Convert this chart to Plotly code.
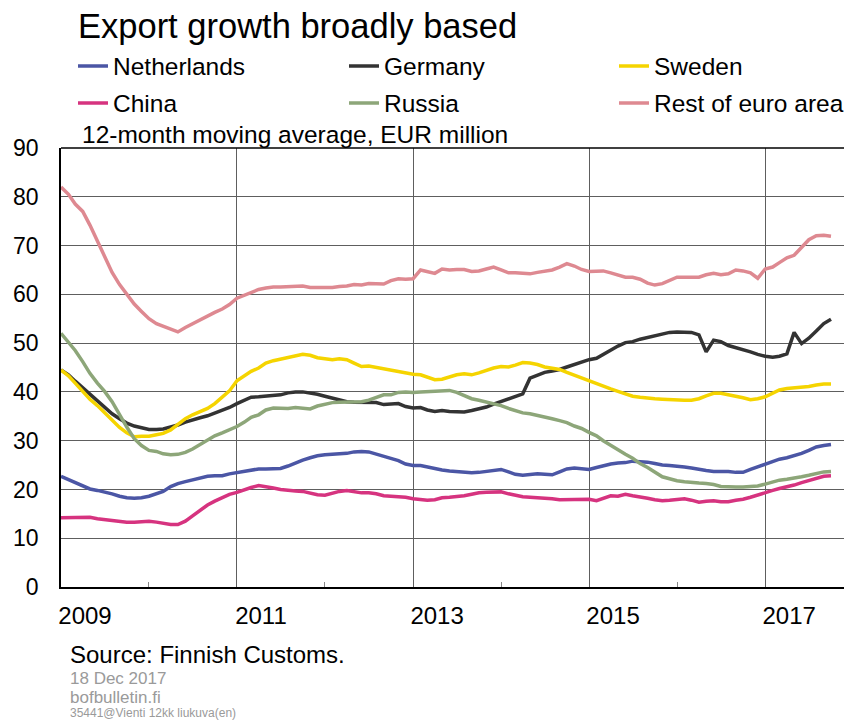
import pandas as pd
import plotly.graph_objects as go

# ---------------- data (12-month moving average, EUR million), monthly Jan 2009 - Oct 2017
netherlands = [22.7, 22.0, 21.4, 20.8, 20.1, 19.8, 19.5, 19.1, 18.6, 18.3, 18.2, 18.3, 18.6, 19.1, 19.6, 20.6, 21.2, 21.6, 22.0, 22.4, 22.7, 22.8, 22.8, 23.2, 23.5, 23.7, 24.0,
               24.2, 24.2, 24.3, 24.3, 24.8, 25.5, 26.0, 26.5, 26.9, 27.1, 27.2, 27.3, 27.4, 27.7, 27.8, 27.7, 27.2, 26.7, 26.3, 25.9, 25.2, 24.9, 24.9, 24.6, 24.2, 24.0,
               23.8, 23.7, 23.6, 23.4, 23.5, 23.7, 23.9, 24.1, 23.6, 23.1, 22.9, 23.1, 23.2, 23.1, 23.0, 23.6, 24.2, 24.4, 24.2, 24.1, 24.5, 24.9, 25.2, 25.4, 25.5,
               25.8, 25.7, 25.6, 25.3, 25.0, 24.9, 24.8, 24.6, 24.4, 24.1, 23.9, 23.7, 23.7, 23.7, 23.5, 23.5, 24.1, 24.6, 25.1, 25.7, 26.2, 26.5, 26.9, 27.4, 28.0, 28.7, 29.0, 29.2]
germany = [44.5, 43.5, 42.2, 40.8, 39.5, 38.2, 36.8, 35.5, 34.5, 33.6, 33.0, 32.6, 32.3, 32.3, 32.4, 32.8, 33.2, 33.8, 34.3, 34.7, 35.1, 35.6, 36.2, 36.8, 37.6, 38.3, 38.9,
           39.0, 39.1, 39.2, 39.4, 39.8, 40.0, 40.0, 39.8, 39.5, 39.1, 38.7, 38.3, 38.0, 37.9, 37.9, 37.9, 37.8, 37.4, 37.5, 37.6, 37.0, 36.7, 36.8, 36.3, 36.0, 36.2,
           36.0, 36.0, 35.9, 36.2, 36.6, 36.9, 37.5, 38.0, 38.6, 39.1, 39.6, 42.8, 43.5, 44.0, 44.3, 44.6, 45.1, 45.6, 46.1, 46.6, 46.9, 47.7, 48.7, 49.4, 50.1,
           50.3, 50.8, 51.2, 51.5, 51.8, 52.2, 52.3, 52.3, 52.2, 51.7, 48.2, 50.6, 50.3, 49.5, 49.1, 48.6, 48.2, 47.7, 47.3, 47.1, 47.3, 47.8, 52.2, 49.9, 51.0, 52.5, 54.0, 54.9]
sweden = [44.5, 43.3, 41.8, 40.2, 38.5, 37.2, 35.7, 34.2, 32.7, 31.6, 30.8, 30.9, 30.9, 31.2, 31.5, 32.2, 33.3, 34.5, 35.3, 35.9, 36.6, 37.6, 38.9, 40.2, 42.3, 43.3, 44.2,
          44.9, 45.9, 46.4, 46.7, 47.0, 47.4, 47.7, 47.5, 47.0, 46.8, 46.6, 46.8, 46.6, 45.9, 45.2, 45.3, 45.0, 44.8, 44.5, 44.2, 43.8, 43.6, 43.5, 43.0, 42.5, 42.6,
          43.0, 43.5, 43.7, 43.5, 43.9, 44.4, 44.9, 45.2, 45.1, 45.5, 46.0, 45.9, 45.6, 45.1, 44.8, 44.6, 44.0, 43.4, 42.9, 42.4, 41.8, 41.2, 40.6, 40.1, 39.5,
          39.1, 38.9, 38.7, 38.6, 38.5, 38.4, 38.4, 38.3, 38.3, 38.6, 39.2, 39.7, 39.7, 39.4, 39.2, 38.8, 38.4, 38.6, 39.0, 39.8, 40.4, 40.7, 40.8, 40.9, 41.1, 41.4, 41.6, 41.6]
china = [14.2, 14.2, 14.2, 14.3, 14.3, 14.0, 13.8, 13.6, 13.5, 13.3, 13.3, 13.4, 13.5, 13.3, 13.0, 12.8, 12.8, 13.5, 14.6, 15.8, 16.8, 17.6, 18.4, 19.0, 19.4, 20.0, 20.4,
         20.8, 20.6, 20.3, 20.0, 19.8, 19.7, 19.6, 19.3, 18.9, 18.8, 19.2, 19.6, 19.8, 19.5, 19.3, 19.3, 19.1, 18.7, 18.6, 18.6, 18.4, 18.1, 18.0, 17.8, 17.9, 18.3,
         18.4, 18.5, 18.7, 19.0, 19.3, 19.4, 19.5, 19.5, 19.1, 18.8, 18.5, 18.4, 18.3, 18.3, 18.1, 17.9, 17.9, 17.9, 17.9, 18.0, 17.7, 18.1, 18.7, 18.6, 19.0,
         18.7, 18.5, 18.2, 17.9, 17.7, 17.8, 18.0, 18.1, 17.8, 17.4, 17.6, 17.7, 17.5, 17.5, 17.8, 18.0, 18.4, 18.9, 19.3, 19.8, 20.2, 20.5, 20.9, 21.4, 21.8, 22.3, 22.7, 22.8]
russia = [52.0, 50.2, 48.5, 46.2, 43.8, 41.8, 40.1, 38.0, 35.3, 32.8, 30.4, 29.0, 28.0, 27.8, 27.3, 27.1, 27.2, 27.6, 28.3, 29.2, 30.2, 31.0, 31.6, 32.2, 32.9, 33.8, 34.8,
          35.3, 36.3, 36.7, 36.6, 36.6, 36.8, 36.6, 36.5, 37.1, 37.5, 37.8, 37.9, 37.9, 37.9, 38.0, 38.3, 38.8, 39.4, 39.4, 39.9, 40.0, 39.9, 40.0, 40.1, 40.2, 40.3,
          40.3, 39.9, 39.3, 38.6, 38.3, 37.9, 37.6, 37.2, 36.6, 36.2, 35.7, 35.5, 35.2, 34.9, 34.5, 34.1, 33.7, 33.0, 32.5, 31.7, 31.0, 30.0, 29.0, 28.1, 27.2,
          26.4, 25.3, 24.5, 23.5, 22.6, 22.2, 21.8, 21.6, 21.4, 21.3, 21.2, 21.0, 20.6, 20.5, 20.5, 20.5, 20.6, 20.7, 21.1, 21.5, 21.9, 22.1, 22.3, 22.6, 22.9, 23.3, 23.6, 23.7]
rest_of_euro_area = [82.0, 80.5, 78.5, 77.0, 74.2, 70.8, 67.5, 64.5, 62.0, 60.0, 58.0, 56.5, 55.0, 54.0, 53.5, 52.8, 52.3, 53.2, 54.0, 54.8, 55.5, 56.3, 57.0, 57.9, 59.2, 59.8, 60.3,
                     61.0, 61.3, 61.5, 61.5, 61.6, 61.7, 61.7, 61.4, 61.4, 61.3, 61.4, 61.6, 61.7, 62.0, 61.9, 62.2, 62.2, 62.1, 62.8, 63.2, 63.1, 63.2, 65.0, 64.7, 64.3, 65.2,
                     65.0, 65.1, 65.1, 64.7, 64.8, 65.2, 65.6, 65.0, 64.4, 64.4, 64.3, 64.2, 64.5, 64.8, 65.0, 65.6, 66.3, 65.8, 65.1, 64.7, 64.8, 64.8, 64.4, 63.9, 63.5,
                     63.5, 63.1, 62.3, 61.9, 62.2, 62.8, 63.5, 63.5, 63.5, 63.5, 64.0, 64.3, 64.0, 64.2, 65.0, 64.8, 64.4, 63.3, 65.2, 65.6, 66.5, 67.5, 68.0, 69.5, 71.2, 72.0, 72.1, 71.9]

series_names = ["Netherlands", "Germany", "Sweden", "China", "Russia", "Rest of euro area"]
series_values = [netherlands, germany, sweden, china, russia, rest_of_euro_area]
series_colors = ["#4B56A5", "#333333", "#F5D400", "#D6337F", "#8DA679", "#DE8991"]

year_ticks = ["2009-01-01", "2011-01-01", "2013-01-01", "2015-01-01", "2017-01-01"]
year_labels = ["2009", "2011", "2013", "2015", "2017"]
minor_ticks = ["2010-01-01", "2012-01-01", "2014-01-01", "2016-01-01"]
y_ticks = list(range(0, 91, 10))

# ---------------- layout geometry (page pixels; the page has an 8 px body margin)
OFF = 8
W, H = 852 - OFF, 724 - OFF
PL, PR, PT, PB = 61, 851, 148, 587          # plot area in page pixels
def px(x):
    return (x - PL) / (PR - PL)
def py(y):
    return (PB - y) / (PB - PT)

FONT = "Liberation Sans, Arial, sans-serif"

fig = go.Figure()
legend_pos = [(79, 66), (350, 66), (620, 66), (79, 103), (350, 103), (620, 103)]
for i, (name, vals, col) in enumerate(zip(series_names, series_values, series_colors)):
    dates = pd.date_range("2009-01-01", periods=len(vals), freq="MS")
    fig.add_trace(go.Scatter(
        x=dates, y=vals, mode="lines", name=name,
        line=dict(color=col, width=3.5),
        legend="legend" if i == 0 else f"legend{i+1}",
        hoverinfo="skip",
    ))

legends = {}
for i, (lx, ly) in enumerate(legend_pos):
    key = "legend" if i == 0 else f"legend{i+1}"
    legends[key] = dict(
        x=px(lx - 6), y=py(ly), xanchor="left", yanchor="middle",
        orientation="h", bgcolor="rgba(0,0,0,0)", borderwidth=0,
        font=dict(family=FONT, size=24.5, color="#000000"),
        itemwidth=30,
    )

fig.update_layout(
    width=W, height=H,
    margin=dict(l=PL - OFF, r=W - (PR - OFF), t=PT - OFF, b=H - (PB - OFF), pad=0),
    paper_bgcolor="white", plot_bgcolor="white",
    showlegend=True,
    title=dict(text="Export growth broadly based", x=(78 - OFF) / W, xref="container", xanchor="left",
               y=1 - (26 - OFF) / H, yref="container", yanchor="middle",
               font=dict(family=FONT, size=34.5, color="#000000")),
    **legends,
)

fig.update_xaxes(
    type="date", range=["2009-01-01", "2017-12-23"],
    tickmode="array", tickvals=year_ticks, ticktext=year_labels,
    ticks="", ticklabelshift=24, ticklabelstandoff=6,
    tickfont=dict(family=FONT, size=24, color="#000000"),
    showgrid=True, gridcolor="#5E5E5E", gridwidth=1.2,
    showline=True, linecolor="#000000", linewidth=1.5,
    zeroline=False,
    minor=dict(tickmode="array", tickvals=minor_ticks, ticks="inside", ticklen=5,
               tickcolor="#888888", tickwidth=1, showgrid=False),
)
fig.update_yaxes(
    range=[0, 90], tickmode="array", tickvals=y_ticks,
    ticks="", ticklabelstandoff=16,
    tickfont=dict(family=FONT, size=23, color="#000000"),
    showgrid=True, gridcolor="#5E5E5E", gridwidth=1.2,
    showline=True, linecolor="#000000", linewidth=1.5,
    zeroline=False,
)

# top frame line
fig.add_shape(type="line", xref="paper", yref="paper", x0=0, x1=1, y0=1, y1=1,
              line=dict(color="#000000", width=1.5))

def note(text, x, y, size, color):
    fig.add_annotation(text=text, xref="paper", yref="paper", x=px(x), y=py(y),
                       xanchor="left", yanchor="middle", showarrow=False,
                       font=dict(family=FONT, size=size, color=color))

note("12-month moving average, EUR million", 80, 135, 24.5, "#000000")
note("Source: Finnish Customs.", 68, 654, 24, "#000000")
note("18 Dec 2017", 68, 678, 17, "#9A9A9A")
note("bofbulletin.fi", 68, 697, 17, "#9A9A9A")
note("35441@Vienti 12kk liukuva(en)", 68, 713, 12, "#9A9A9A")

fig.write_html("out.html")
